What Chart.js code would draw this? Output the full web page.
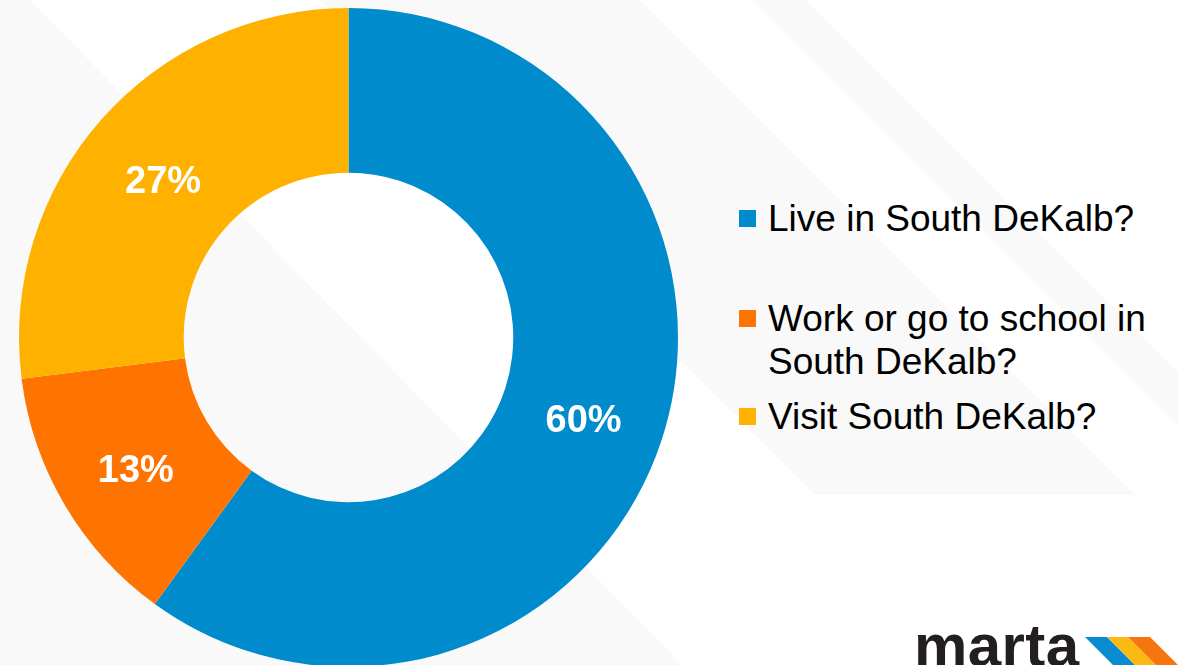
<!DOCTYPE html>
<html>
<head>
<meta charset="utf-8">
<script src="https://cdn.jsdelivr.net/npm/chart.js@4.4.1/dist/chart.umd.min.js"></script>
<style>
  html, body { margin: 0; padding: 0; overflow: hidden; background: #fff; }
  #stage { position: relative; width: 1178px; height: 665px; overflow: hidden; font-family: "Liberation Sans", Arial, sans-serif; }
  #bg { position: absolute; left: 0; top: 0; }
  #chartBox { position: absolute; left: 19px; top: 8px; width: 659px; height: 659px; }
  #legend .item { position: absolute; left: 739px; }
  #legend .item:nth-child(1) { top: 197px; }
  #legend .item:nth-child(2) { top: 297px; }
  #legend .item:nth-child(3) { top: 395px; }
  #legend .swatch { position: absolute; left: 0; top: 13px; width: 17px; height: 17px; }
  #legend .text { position: absolute; left: 29px; top: 0; width: 400px; font-size: 37px; line-height: 43px; color: #000; }
</style>
</head>
<body>
<div id="stage">
  <svg id="bg" width="1178" height="665">
    <!-- pale diagonal bands -->
    <polygon points="0,0 30,0 682,665 0,665" fill="#f9f9f9"/>
    <polygon points="320,0 640,0 1135,495 815,495" fill="#f9f9f9"/>
    <polygon points="753,0 806,0 1178,372 1178,425" fill="#f9f9f9"/>
    <!-- logo -->
    <text x="914" y="666" font-family="Liberation Sans, Arial" font-weight="bold" font-size="60" textLength="165" fill="#231f20">marta</text>
    <polygon points="1085,637 1107,637 1135,665 1113,665" fill="#0a8bd0"/>
    <polygon points="1107,637 1128,637 1156,665 1135,665" fill="#fdb913"/>
    <polygon points="1128,637 1150,637 1178,665 1156,665" fill="#f7750d"/>
  </svg>
  <div id="chartBox"><canvas id="chart"></canvas></div>
  <div id="legend"></div>
</div>
<script>
const categories = ['Live in South DeKalb?', 'Work or go to school in South DeKalb?', 'Visit South DeKalb?'];
const shares = [60, 13, 27];
const sliceColors = ['#008bcc', '#ff7300', '#ffb100'];

// percent labels in the middle of each ring segment
const sliceLabels = {
    id: 'sliceLabels',
    afterDatasetsDraw(chart) {
        const ctx = chart.ctx;
        const meta = chart.getDatasetMeta(0);
        ctx.save();
        ctx.font = 'bold 38px "Liberation Sans", Arial, sans-serif';
        ctx.fillStyle = '#ffffff';
        ctx.textAlign = 'center';
        ctx.textBaseline = 'middle';
        meta.data.forEach((arc, i) => {
            const p = arc.getCenterPoint();
            ctx.fillText(shares[i] + '%', p.x, p.y + 8);
        });
        ctx.restore();
    }
};

new Chart(document.getElementById('chart'), {
    type: 'doughnut',
    data: {
        labels: categories,
        datasets: [{
            data: shares,
            backgroundColor: sliceColors,
            borderWidth: 0
        }]
    },
    options: {
        responsive: true,
        maintainAspectRatio: false,
        animation: false,
        cutout: '50%',
        layout: { padding: 0 },
        plugins: {
            legend: { display: false },
            tooltip: { enabled: false }
        }
    },
    plugins: [sliceLabels]
});

// legend on the right
const legend = document.getElementById('legend');
categories.forEach((name, i) => {
    const item = document.createElement('div');
    item.className = 'item';
    const sw = document.createElement('div');
    sw.className = 'swatch';
    sw.style.background = sliceColors[i];
    const txt = document.createElement('div');
    txt.className = 'text';
    txt.textContent = name;
    item.appendChild(sw);
    item.appendChild(txt);
    legend.appendChild(item);
});
</script>
</body>
</html>
